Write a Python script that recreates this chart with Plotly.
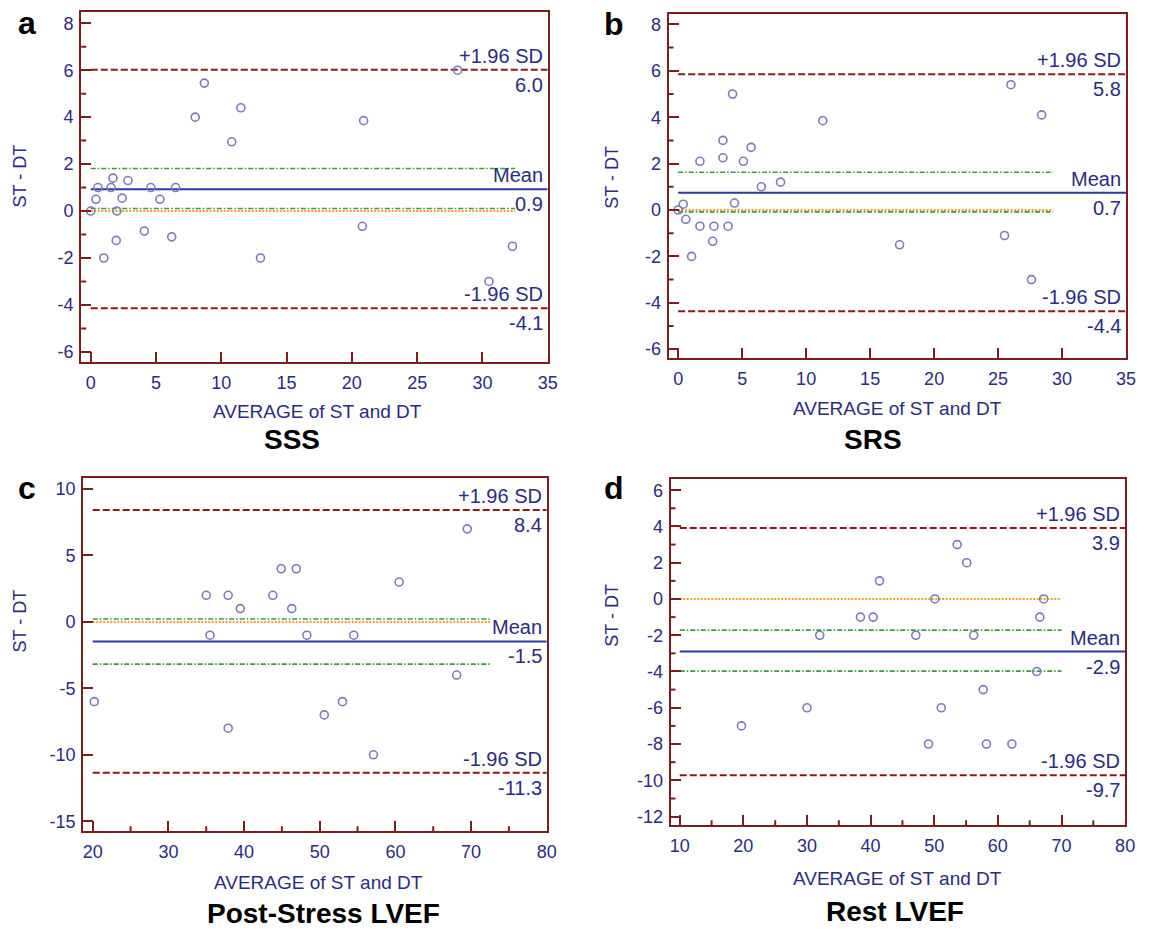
import plotly.graph_objects as go

W, H = 1149, 931

# ---------------- data ----------------
# Panel a: SSS
sss_avg = [0, 0.4, 0.55, 1.0, 1.55, 1.7, 2.0, 1.95, 2.4, 2.85, 4.1, 4.6, 5.3, 6.2, 6.5,
           8.0, 8.7, 10.8, 11.5, 13.0, 28.1, 20.9, 20.8, 32.3, 30.5]
sss_diff = [0, 0.5, 1.0, -2.0, 1.0, 1.4, 0.0, -1.25, 0.55, 1.3, -0.85, 1.0, 0.5, -1.1, 1.0,
            4.0, 5.45, 2.95, 4.4, -2.0, 6.0, 3.85, -0.65, -1.5, -3.0]
sss_stats = [0.93, 6.02, -4.14]      # mean, +1.96SD, -1.96SD
sss_ci = [0.11, 1.81]
sss_labels = ["0.9", "6.0", "-4.1"]
sss_xticks = [0, 5, 10, 15, 20, 25, 30, 35]
sss_yticks = [-6, -4, -2, 0, 2, 4, 6, 8]

# Panel b: SRS
srs_avg = [0, 0.4, 0.6, 1.05, 1.7, 1.7, 2.7, 2.8, 3.5, 3.5, 3.9, 4.25, 4.4, 5.1, 5.7,
           6.5, 8.0, 11.3, 26.0, 28.4, 17.3, 25.5, 27.6]
srs_diff = [0, 0.25, -0.4, -2.0, 2.1, -0.7, -1.35, -0.7, 3.0, 2.25, -0.7, 5.0, 0.3, 2.1, 2.7,
            1.0, 1.2, 3.85, 5.4, 4.1, -1.5, -1.1, -3.0]
srs_stats = [0.74, 5.85, -4.37]
srs_ci = [-0.08, 1.63]
srs_labels = ["0.7", "5.8", "-4.4"]
srs_xticks = [0, 5, 10, 15, 20, 25, 30, 35]
srs_yticks = [-6, -4, -2, 0, 2, 4, 6, 8]

# Panel c: Post-Stress LVEF
ps_avg = [20.2, 35.0, 35.5, 37.9, 37.9, 39.5, 43.8, 44.9, 46.3, 46.9, 48.3, 54.5, 60.5,
          69.5, 68.1, 53.0, 50.6, 57.1]
ps_diff = [-6, 2, -1, 2, -8, 1, 2, 4, 1, 4, -1, -1, 3, 7, -4, -6, -7, -10]
ps_stats = [-1.47, 8.42, -11.36]
ps_ci = [-3.18, 0.22]
ps_labels = ["-1.5", "8.4", "-11.3"]
ps_xticks = [20, 30, 40, 50, 60, 70, 80]
ps_yticks = [-15, -10, -5, 0, 5, 10]

# Panel d: Rest LVEF
rest_avg = [19.7, 30.0, 32.0, 38.4, 40.4, 41.4, 53.6, 55.1, 50.1, 67.2, 66.6, 47.1, 56.2,
            66.1, 57.7, 51.1, 49.1, 58.2, 62.2]
rest_diff = [-7, -6, -2, -1, -1, 1, 3, 2, 0, 0, -1, -2, -2, -4, -5, -6, -8, -8, -8]
rest_stats = [-2.9, 3.92, -9.72]
rest_ci = [-3.98, -1.72]
rest_labels = ["-2.9", "3.9", "-9.7"]
rest_xticks = [10, 20, 30, 40, 50, 60, 70, 80]
rest_yticks = [-12, -10, -8, -6, -4, -2, 0, 2, 4, 6]

panel_titles = ["SSS", "SRS", "Post-Stress LVEF", "Rest LVEF"]
panel_letters = ["a", "b", "c", "d"]
x_title = "AVERAGE of ST and DT"
y_title = "ST - DT"

# ---------------- styling ----------------
AXC = "#7a1e1e"
NAVY = "#2b2b80"
MARK = "#7b7bb8"
MEANC = "#2e3a9e"
SDC = "#8b1a1a"
GREEN = "#3c9a3c"
ORANGE = "#ff9a30"
FONT = "Liberation Sans, Arial, sans-serif"


def px(x):
    return x / W


def py(y):
    return 1 - y / H


def midpoints(ticks):
    return [(a + b) / 2 for a, b in zip(ticks[:-1], ticks[1:])]


panels = [
    dict(avg=sss_avg, diff=sss_diff, stats=sss_stats, ci=sss_ci, labels=sss_labels,
         xticks=sss_xticks, yticks=sss_yticks,
         dom=(81, 552, 12, 363), xr=[-0.73, 35], yr=[-6.44, 8.48], xminor=False, yminor=True,
         line_x=[0, 35], ci_x=[0, 32.5]),
    dict(avg=srs_avg, diff=srs_diff, stats=srs_stats, ci=srs_ci, labels=srs_labels,
         xticks=srs_xticks, yticks=srs_yticks,
         dom=(674, 1136, 14, 359), xr=[-0.75, 35], yr=[-6.39, 8.45], xminor=False, yminor=True,
         line_x=[0, 35], ci_x=[0, 29.3]),
    dict(avg=ps_avg, diff=ps_diff, stats=ps_stats, ci=ps_ci, labels=ps_labels,
         xticks=ps_xticks, yticks=ps_yticks,
         dom=(83, 551, 479, 833), xr=[18.74, 80], yr=[-15.75, 10.83], xminor=True, yminor=False,
         line_x=[20, 80], ci_x=[20, 72.5]),
    dict(avg=rest_avg, diff=rest_diff, stats=rest_stats, ci=rest_ci, labels=rest_labels,
         xticks=rest_xticks, yticks=rest_yticks,
         dom=(676, 1135, 480, 827), xr=[8.55, 80], yr=[-12.48, 6.62], xminor=True, yminor=True,
         line_x=[10, 80], ci_x=[10, 70]),
]

fig = go.Figure()
annotations = []
shapes = []
layout = {}

# text positions (pixels) for titles etc.
letter_pos = [(26, 23), (619, 24), (26, 489), (619, 489)]
ytitle_pos = [(19, 176), (617, 178), (19, 622), (617, 617)]
xtitle_pos = [(320, 412), (905, 409), (321, 884), (905, 880)]
btitle_pos = [(294, 440), (880, 440), (326, 915), (903, 913)]

tickfont = dict(family=FONT, size=18, color=NAVY)
MINOR_LEN = 5

for i, p in enumerate(panels):
    n = "" if i == 0 else str(i + 1)
    xa, ya = "x" + n, "y" + n
    x0, x1, y0, y1 = p["dom"]
    ax_common = dict(showgrid=False, zeroline=False, showline=True, linecolor=AXC, linewidth=2,
                     mirror=True, ticks="inside", ticklen=10, tickwidth=2, tickcolor=AXC,
                     tickfont=tickfont, tickmode="array")
    layout["xaxis" + n] = dict(ax_common, domain=[px(x0), px(x1)], range=p["xr"], anchor=ya,
                               tickvals=p["xticks"], ticktext=[str(v) for v in p["xticks"]],
                               ticklabelstandoff=3)
    layout["yaxis" + n] = dict(ax_common, domain=[py(y1), py(y0)], range=p["yr"], anchor=xa,
                               tickvals=p["yticks"], ticktext=[str(v) for v in p["yticks"]],
                               ticklabelstandoff=2)

    # minor ticks (pixel-length shapes anchored on axis values)
    if p["xminor"]:
        for v in midpoints(p["xticks"]):
            shapes.append(dict(type="line", xref=xa, yref=ya + " domain", x0=v, x1=v,
                               ysizemode="pixel", yanchor=0, y0=0, y1=MINOR_LEN,
                               line=dict(color=AXC, width=2), layer="above"))
    if p["yminor"]:
        for v in midpoints(p["yticks"]):
            shapes.append(dict(type="line", xref=xa + " domain", yref=ya, y0=v, y1=v,
                               xsizemode="pixel", xanchor=0, x0=0, x1=MINOR_LEN,
                               line=dict(color=AXC, width=2), layer="above"))

    mean, up, lo = p["stats"]
    lx = p["line_x"]
    cx = p["ci_x"]
    # line of equality (orange dotted)
    fig.add_trace(go.Scatter(x=cx, y=[0, 0], mode="lines", xaxis=xa, yaxis=ya,
                             line=dict(color=ORANGE, width=2, dash="2px,1.5px"), hoverinfo="skip"))
    # CI of mean
    for v in p["ci"]:
        fig.add_trace(go.Scatter(x=cx, y=[v, v], mode="lines", xaxis=xa, yaxis=ya,
                                 line=dict(color=GREEN, width=1.6, dash="5px,2px,1.5px,2px"),
                                 hoverinfo="skip"))
    # limits of agreement
    for v in (up, lo):
        fig.add_trace(go.Scatter(x=lx, y=[v, v], mode="lines", xaxis=xa, yaxis=ya,
                                 line=dict(color=SDC, width=2, dash="7px,3px"), hoverinfo="skip"))
    # mean
    fig.add_trace(go.Scatter(x=lx, y=[mean, mean], mode="lines", xaxis=xa, yaxis=ya,
                             line=dict(color=MEANC, width=2), hoverinfo="skip"))
    # points
    fig.add_trace(go.Scatter(x=p["avg"], y=p["diff"], mode="markers", xaxis=xa, yaxis=ya,
                             marker=dict(symbol="circle-open", size=8, color=MARK,
                                         line=dict(width=1.6, color=MARK))))

    lab_mean, lab_up, lab_lo = p["labels"]
    for txt, v, sh in [("+1.96 SD", up, 14), (lab_up, up, -15),
                       ("Mean", mean, 14), (lab_mean, mean, -15),
                       ("-1.96 SD", lo, 14), (lab_lo, lo, -15)]:
        annotations.append(dict(x=p["xr"][1], y=v, xref=xa, yref=ya, text=txt, showarrow=False,
                                xanchor="right", yanchor="middle", xshift=-3, yshift=sh,
                                font=dict(family=FONT, size=20, color=NAVY)))

    lxp, lyp = letter_pos[i]
    annotations.append(dict(x=px(lxp), y=py(lyp), xref="paper", yref="paper", text=panel_letters[i],
                            showarrow=False, xanchor="center", yanchor="middle",
                            font=dict(family=FONT, size=32, color="#000000", weight="bold")))
    tx, ty = ytitle_pos[i]
    annotations.append(dict(x=px(tx), y=py(ty), xref="paper", yref="paper", text=y_title,
                            showarrow=False, textangle=-90, xanchor="center", yanchor="middle",
                            font=dict(family=FONT, size=18, color=NAVY)))
    tx, ty = xtitle_pos[i]
    annotations.append(dict(x=px(tx), y=py(ty), xref="paper", yref="paper", text=x_title,
                            showarrow=False, xanchor="center", yanchor="middle",
                            font=dict(family=FONT, size=19, color=NAVY)))
    tx, ty = btitle_pos[i]
    annotations.append(dict(x=px(tx), y=py(ty), xref="paper", yref="paper", text=panel_titles[i],
                            showarrow=False, xanchor="center", yanchor="middle",
                            font=dict(family=FONT, size=28, color="#000000", weight="bold")))

fig.update_layout(width=W, height=H, margin=dict(l=0, r=0, t=0, b=0), showlegend=False,
                  paper_bgcolor="white", plot_bgcolor="white", annotations=annotations,
                  shapes=shapes, **layout)

fig.write_html("out.html")
